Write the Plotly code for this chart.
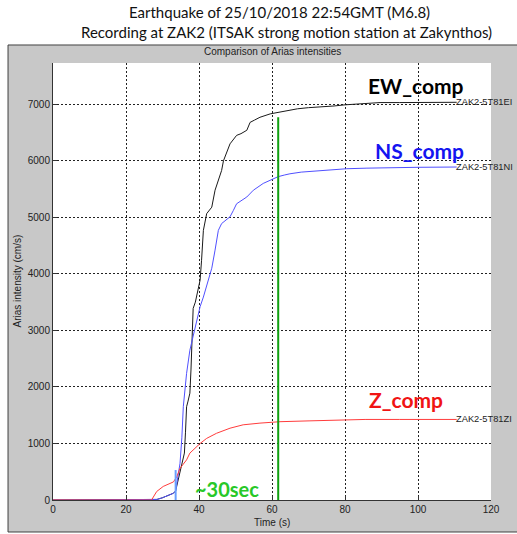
import plotly.graph_objects as go

# Arias intensity build-up (cm/s) per component, ZAK2 station
ew_t = [0, 27, 28.5, 30, 31.5, 33, 33.6, 34.3, 35.2, 36.0, 36.3, 36.6, 37.0, 37.5, 37.8, 38.0,
        38.4, 39.0, 39.8, 40.3, 40.7, 41.2, 42.1, 43.5, 44.4, 45.3, 46.2, 46.7, 47.6, 48.5,
        50.3, 51.5, 53.1, 54.0, 55.2, 56.7, 59.5, 61.7, 63.5, 64.9, 67, 70, 73.2, 77, 80,
        84.1, 89.6, 95, 100, 110.6]
ew_v = [0, 0, 10, 40, 80, 120, 160, 350, 600, 830, 1200, 1650, 1750, 1890, 2300, 2710,
        3390, 3500, 3770, 3890, 4240, 4770, 5065, 5180, 5480, 5650, 5830, 6000, 6150, 6300,
        6450, 6480, 6540, 6680, 6720, 6770, 6830, 6860, 6880, 6900, 6920, 6940, 6950, 6970, 6990,
        7010, 7030, 7030, 7035, 7035]

ns_t = [0, 27, 28.5, 30, 31.5, 33, 33.6, 34.2, 34.8, 35.3, 35.7, 36.6, 37.5, 38.4, 39.4,
        40.3, 41.2, 42.5, 43.5, 44.4, 45.3, 46.2, 48.5, 49.4, 50.3, 53.1, 54.9, 57.6, 60.4,
        61.7, 63.5, 64.9, 68, 73.2, 80.5, 86, 93.2, 100, 110.6]
ns_v = [0, 0, 10, 40, 80, 120, 160, 400, 650, 1100, 1650, 2240, 2650, 2900, 3180,
        3420, 3590, 3890, 4100, 4420, 4770, 4890, 5010, 5120, 5240, 5360, 5480, 5600, 5690,
        5720, 5750, 5770, 5800, 5830, 5860, 5870, 5880, 5885, 5890]

z_t = [0, 27, 28.4, 30.2, 33.0, 33.9, 34.8, 36.6, 37.5, 40.3, 42.1, 44.8, 48.5, 52.1,
       56.7, 62.2, 70.4, 85.5, 95, 110.6]
z_v = [0, 0, 150, 240, 320, 410, 560, 710, 830, 1000, 1090, 1180, 1270, 1330,
       1360, 1385, 1400, 1425, 1425, 1425]

series_names = ["ZAK2-5T81EI", "ZAK2-5T81NI", "ZAK2-5T81ZI"]
component_labels = ["EW_comp", "NS_comp", "Z_comp"]
label_pos = [(99.4, 7330), (100.5, 6180), (96.7, 1785)]

# Markers: P-arrival pick and end of strong shaking
pick_t, pick_v = [33.6, 33.6], [-50, 530]
end_t, end_v = [61.7, 61.7], [0, 6770]
duration_text = "~30sec"
duration_pos = (47.6, 195)

x_ticks = [0, 20, 40, 60, 80, 100, 120]
y_ticks = [0, 1000, 2000, 3000, 4000, 5000, 6000, 7000]

line_colors = ["#1a1a1a", "#5050ff", "#ff3c3c"]
label_colors = ["#000000", "#1414f0", "#f01414"]

fig = go.Figure()
for t, v, c, name in zip([ew_t, ns_t, z_t], [ew_v, ns_v, z_v], line_colors, series_names):
    fig.add_trace(go.Scatter(x=t, y=v, mode="lines", line=dict(color=c, width=1), name=name,
                             hoverinfo="skip"))
fig.add_trace(go.Scatter(x=pick_t, y=pick_v, mode="lines",
                         line=dict(color="#6aa0ff", width=2), hoverinfo="skip"))
fig.add_trace(go.Scatter(x=end_t, y=end_v, mode="lines",
                         line=dict(color="#10a010", width=2), hoverinfo="skip"))

# Figure panel (grey) and white axes background
fig.add_shape(type="rect", xref="paper", yref="paper", x0=-0.1027, x1=1.07, y0=-0.0732, y1=1.0412,
              fillcolor="#c8c8c8", line=dict(color="#404040", width=1), layer="below")
fig.add_shape(type="rect", xref="paper", yref="paper", x0=0, x1=1, y0=0, y1=1,
              fillcolor="white", line=dict(width=0), layer="below")

small_font = dict(family="Liberation Sans, Arial", size=10, color="#222")
label_font = dict(family="Liberation Sans, Arial", size=9.3, color="#222")

ann = []
ann.append(dict(text="Earthquake of 25/10/2018 22:54GMT (M6.8)", xref="paper", yref="paper",
                x=(279 - 53) / 438, y=(500 - 12) / 437, xanchor="center", yanchor="middle",
                showarrow=False, font=dict(family="Lato", size=15, color="#111")))
ann.append(dict(text="Recording at ZAK2 (ITSAK strong motion station at Zakynthos)", xref="paper",
                yref="paper", x=(286 - 53) / 438, y=(500 - 32) / 437, xanchor="center",
                yanchor="middle", showarrow=False, font=dict(family="Lato", size=15, color="#111")))
ann.append(dict(text="Comparison of Arias intensities", xref="paper", yref="paper",
                x=0.5, y=(500 - 52) / 437, xanchor="center", yanchor="middle",
                showarrow=False, font=small_font))
ann.append(dict(text="Arias intensity (cm/s)", xref="paper", yref="paper", textangle=-90,
                x=(17 - 53) / 438, y=0.5, xanchor="center", yanchor="middle",
                showarrow=False, font=small_font))
ann.append(dict(text="Time (s)", xref="paper", yref="paper",
                x=0.5, y=(500 - 522) / 437, xanchor="center", yanchor="middle",
                showarrow=False, font=small_font))
for t, v, name in zip([ew_t, ns_t, z_t], [ew_v, ns_v, z_v], series_names):
    ann.append(dict(text=name, x=t[-1], y=v[-1], xanchor="left", yanchor="middle",
                    showarrow=False, xshift=-3, font=label_font))
for lab, (lx, ly), c in zip(component_labels, label_pos, label_colors):
    ann.append(dict(text="<b>" + lab + "</b>", x=lx, y=ly, xanchor="center", yanchor="middle",
                    showarrow=False, font=dict(family="Lato", size=21, color=c)))
ann.append(dict(text="<b>" + duration_text + "</b>", x=duration_pos[0], y=duration_pos[1],
                xanchor="center", yanchor="middle",
                showarrow=False, font=dict(family="Lato", size=20, color="#28c828")))

axis_common = dict(showgrid=True, gridcolor="#222", griddash="2px,2px", gridwidth=1,
                   zeroline=False, showline=True, linecolor="#333", linewidth=1, mirror=False,
                   ticks="inside", ticklen=4, tickcolor="#333", tickfont=small_font)

fig.update_layout(
    width=517, height=534,
    margin=dict(l=53, r=26, t=63, b=34),
    paper_bgcolor="white", plot_bgcolor="rgba(0,0,0,0)",
    showlegend=False,
    annotations=ann,
    xaxis=dict(range=[0, 120], tickvals=x_ticks, **axis_common),
    yaxis=dict(range=[0, 7730], tickvals=y_ticks, **axis_common),
)

fig.write_html("out.html")
